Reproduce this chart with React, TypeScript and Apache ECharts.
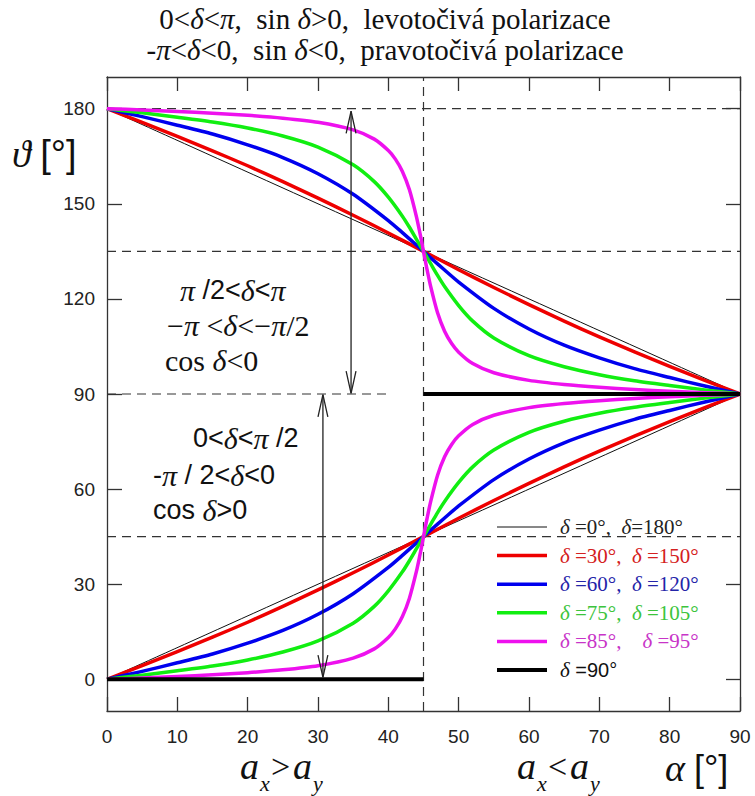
import React, { useEffect, useRef } from "react";
import * as echarts from "echarts";

const SERIF = '"Liberation Serif", "Times New Roman", serif';
const SANS = '"Liberation Sans", Arial, sans-serif';

// Axis ticks
const X_TICKS = [0, 10, 20, 30, 40, 50, 60, 70, 80, 90];
const Y_TICKS = [0, 30, 60, 90, 120, 150, 180];

// delta = 0 deg / 180 deg (thin black)
const ALPHA_D0 = [0, 90];
const D0_LOW = [0, 90];
const D0_UP = [180, 90];

// delta = 30 / 150 (red)
const ALPHA_D30 = [0, 5, 10, 15, 20, 25, 30, 35, 40, 45, 50, 55, 60, 65, 70, 75, 80, 85, 90];
const D30_LOW = [0, 4.3, 8.7, 13.3, 18.0, 23.0, 28.2, 33.6, 39.2, 45, 50.8, 56.4, 61.8, 67.0, 72.0, 76.7, 81.3, 85.7, 90];
const D30_UP = [180, 175.7, 171.3, 166.7, 162.0, 157.0, 151.8, 146.4, 140.8, 135, 129.2, 123.6, 118.2, 113.0, 108.0, 103.3, 98.7, 94.3, 90];

// delta = 60 / 120 (blue)
const ALPHA_D60 = [0, 5, 10, 15, 20, 25, 30, 35, 40, 42, 44, 45, 46, 48, 50, 55, 60, 65, 70, 75, 80, 85, 90];
const D60_LOW = [0, 2.5, 5.2, 8.0, 11.4, 15.4, 20.5, 27.0, 35.3, 39.1, 43.0, 45, 47.0, 50.9, 54.7, 63.0, 69.5, 74.6, 78.6, 82.0, 84.8, 87.5, 90];
const D60_UP = [180, 177.5, 174.8, 172.0, 168.6, 164.6, 159.5, 153.0, 144.7, 140.9, 137.0, 135, 133.0, 129.1, 125.3, 117.0, 110.5, 105.4, 101.4, 98.0, 95.2, 92.5, 90];

// delta = 75 / 105 (green)
const ALPHA_D75 = [0, 5, 10, 15, 20, 25, 30, 35, 38, 40, 42, 43, 44, 45, 46, 47, 48, 50, 52, 55, 60, 65, 70, 75, 80, 85, 90];
const D75_LOW = [0, 1.3, 2.7, 4.2, 6.1, 8.6, 12.1, 17.7, 23.0, 27.9, 33.9, 37.4, 41.2, 45, 48.8, 52.6, 56.1, 62.1, 67.0, 72.3, 77.9, 81.4, 83.9, 85.8, 87.3, 88.7, 90];
const D75_UP = [180, 178.7, 177.3, 175.8, 173.9, 171.4, 167.9, 162.3, 157.0, 152.1, 146.1, 142.6, 138.8, 135, 131.2, 127.4, 123.9, 117.9, 113.0, 107.7, 102.1, 98.6, 96.1, 94.2, 92.7, 91.3, 90];

// delta = 85 / 95 (magenta)
const ALPHA_D85 = [0, 5, 10, 15, 20, 25, 30, 35, 38, 40, 41, 42, 43, 44, 44.5, 44.75, 45, 45.25, 45.5, 46, 47, 48, 49, 50, 52, 55, 60, 65, 70, 75, 80, 85, 90];
const D85_LOW = [0, 0.4, 0.9, 1.4, 2.1, 3.0, 4.3, 6.7, 9.6, 13.2, 15.9, 19.8, 25.6, 34.1, 39.3, 42.1, 45, 47.9, 50.7, 55.9, 64.4, 70.2, 74.1, 76.8, 80.4, 83.3, 85.7, 87.0, 87.9, 88.6, 89.1, 89.6, 90];
const D85_UP = [180, 179.6, 179.1, 178.6, 177.9, 177.0, 175.7, 173.3, 170.4, 166.8, 164.1, 160.2, 154.4, 145.9, 140.7, 137.9, 135, 132.1, 129.3, 124.1, 115.6, 109.8, 105.9, 103.2, 99.6, 96.7, 94.3, 93.0, 92.1, 91.4, 90.9, 90.4, 90];

// delta = 90 (thick black)
const ALPHA_D90_A = [0, 45];
const D90_A = [0, 0];
const ALPHA_D90_B = [45, 90];
const D90_B = [90, 90];

// Reference dashed lines: [alpha1, theta1, alpha2, theta2]
const DASHED = [
  [0, 180, 90, 180],
  [0, 135, 90, 135],
  [0, 90, 39.8, 90],
  [0, 45, 90, 45],
  [45, -10, 45, 190],
];

// Double arrows: alpha, theta from, theta to
const ARROWS = [
  [34.7, 179.2, 90.2],
  [30.7, 89.8, 0.6],
];

const zip = (xs: number[], ys: number[]) => xs.map((x, i) => [x, ys[i]]);

const COLORS = {
  d0: "#111111",
  d30: "#ee0000",
  d60: "#0000ee",
  d75: "#11ee11",
  d85: "#ee11ee",
  d90: "#000000",
};

export default function App() {
  const ref = useRef<HTMLDivElement>(null);

  useEffect(() => {
    if (!ref.current) return;
    const chart = echarts.init(ref.current, null, { renderer: "svg" });

    const curve = (name: string, xs: number[], ys: number[], color: string, width: number, z: number) => ({
      name,
      type: "line",
      data: zip(xs, ys),
      showSymbol: false,
      symbol: "none",
      smooth: 0.25,
      lineStyle: { color, width, cap: "butt", join: "round" },
      z,
      silent: true,
    });

    const dashedSeries = DASHED.map((d, i) => ({
      name: "ref" + i,
      type: "line",
      data: [
        [d[0], d[1]],
        [d[2], d[3]],
      ],
      showSymbol: false,
      symbol: "none",
      lineStyle: { color: "#333", width: 1.2, type: [9, 6] },
      z: 1,
      silent: true,
    }));

    const arrowSeries: any[] = [];
    ARROWS.forEach((a, i) => {
      const [x, t1, t2] = a;
      const dx = 0.7;
      const dy = 7;
      const s1 = t1 > t2 ? -dy : dy;
      const mk = (name: string, pts: number[][]) => ({
        name,
        type: "line",
        data: pts,
        showSymbol: false,
        symbol: "none",
        lineStyle: { color: "#222", width: 1.3 },
        z: 8,
        silent: true,
      });
      arrowSeries.push(mk("arrow" + i, [[x, t1], [x, t2]]));
      arrowSeries.push(mk("arrowheadA" + i, [[x - dx, t1 + s1], [x, t1], [x + dx, t1 + s1]]));
      arrowSeries.push(mk("arrowheadB" + i, [[x - dx, t2 - s1], [x, t2], [x + dx, t2 - s1]]));
    });

    const axisLineStyle = { color: "#333", width: 1.3 };
    const tickStyle = { color: "#333", width: 1.3 };

    const italic = (fill: string, fontSize: number) => ({
      fontFamily: SERIF,
      fontStyle: "italic",
      fontSize,
      fill,
    });
    const roman = (fill: string, fontSize: number) => ({
      fontFamily: SERIF,
      fontSize,
      fill,
    });
    const sans = (fill: string, fontSize: number) => ({
      fontFamily: SANS,
      fontSize,
      fill,
    });

    const textEl = (x: number, y: number, text: string, rich: any, base: any, align = "left") => ({
      type: "text",
      x,
      y,
      silent: true,
      style: {
        text,
        rich,
        ...base,
        align,
        verticalAlign: "middle",
      },
    });

    const legendRows = [
      { color: COLORS.d0, width: 1, text: "{i|δ} ={r|0°,  }{i|δ}{r|=180°}", textColor: "#222" },
      { color: COLORS.d30, width: 3.5, text: "{i|δ} ={r|30°,  }{i|δ} ={r|150°}", textColor: "#d42020" },
      { color: COLORS.d60, width: 3.5, text: "{i|δ}{r| =60°,  }{i|δ}{r| =120°}", textColor: "#2424a8" },
      { color: COLORS.d75, width: 3.5, text: "{i|δ}{r| =75°,  }{i|δ}{r| =105°}", textColor: "#3cc43c" },
      { color: COLORS.d85, width: 3.5, text: "{i|δ}{r| =85°,    }{i|δ}{r| =95°}", textColor: "#c834c8" },
      { color: COLORS.d90, width: 4, text: "{i|δ}{s| =90°}", textColor: "#111" },
    ];
    const legendY0 = 527;
    const legendDy = 28.6;
    const legendGraphics: any[] = [];
    legendRows.forEach((r, i) => {
      const y = legendY0 + i * legendDy;
      legendGraphics.push({
        type: "line",
        silent: true,
        shape: { x1: 497, y1: y, x2: 547, y2: y },
        style: { stroke: r.color, lineWidth: r.width },
      });
      legendGraphics.push(
        textEl(
          560,
          y,
          r.text,
          {
            i: italic(r.textColor, 21),
            r: roman(r.textColor, 21),
            s: sans(r.textColor, 20),
          },
          roman(r.textColor, 21)
        )
      );
    });

    const subLabel = (x0: number, op: string) => [
      { type: "text", x: x0, y: 766, silent: true, style: { text: "a", ...italic("#111", 38), align: "left", verticalAlign: "middle" } },
      { type: "text", x: x0 + 20, y: 783, silent: true, style: { text: "x", ...italic("#111", 22), align: "left", verticalAlign: "middle" } },
      { type: "text", x: x0 + 31, y: 766, silent: true, style: { text: op, ...roman("#111", 34), align: "left", verticalAlign: "middle" } },
      { type: "text", x: x0 + 53, y: 766, silent: true, style: { text: "a", ...italic("#111", 38), align: "left", verticalAlign: "middle" } },
      { type: "text", x: x0 + 73, y: 783, silent: true, style: { text: "y", ...italic("#111", 22), align: "left", verticalAlign: "middle" } },
    ];

    const annRich = {
      g: italic("#111", 30),
      r: roman("#111", 30),
      s: sans("#111", 27),
    };

    const option: any = {
      animation: false,
      backgroundColor: "#ffffff",
      grid: { left: 107, right: 15, top: 77, bottom: 85, containLabel: false },
      xAxis: [
        {
          type: "value",
          min: 0,
          max: 90,
          interval: 10,
          position: "bottom",
          axisLine: { show: true, onZero: false, lineStyle: axisLineStyle },
          axisTick: { show: true, inside: true, length: 14, lineStyle: tickStyle },
          axisLabel: { show: true, fontFamily: SANS, fontSize: 19, color: "#222", margin: 16 },
          splitLine: { show: false },
        },
        {
          type: "value",
          min: 0,
          max: 90,
          interval: 10,
          position: "top",
          axisLine: { show: true, onZero: false, lineStyle: axisLineStyle },
          axisTick: { show: true, inside: true, length: 14, lineStyle: tickStyle },
          axisLabel: { show: false },
          splitLine: { show: false },
        },
      ],
      yAxis: [
        {
          type: "value",
          min: -10,
          max: 190,
          position: "left",
          axisLine: { show: true, onZero: false, lineStyle: axisLineStyle },
          axisTick: { show: true, inside: true, length: 15, lineStyle: tickStyle, customValues: Y_TICKS },
          axisLabel: { show: true, fontFamily: SANS, fontSize: 19, color: "#222", margin: 12, customValues: Y_TICKS },
          splitLine: { show: false },
        },
        {
          type: "value",
          min: -10,
          max: 190,
          position: "right",
          axisLine: { show: true, onZero: false, lineStyle: axisLineStyle },
          axisTick: { show: true, inside: true, length: 14, lineStyle: tickStyle, customValues: Y_TICKS },
          axisLabel: { show: false, customValues: Y_TICKS },
          splitLine: { show: false },
        },
      ],
      series: [
        ...dashedSeries,
        curve("δ=0°, δ=180°", ALPHA_D0, D0_LOW, COLORS.d0, 1, 3),
        curve("δ=0°, δ=180°", ALPHA_D0, D0_UP, COLORS.d0, 1, 3),
        curve("δ=30°, δ=150°", ALPHA_D30, D30_LOW, COLORS.d30, 3.5, 4),
        curve("δ=30°, δ=150°", ALPHA_D30, D30_UP, COLORS.d30, 3.5, 4),
        curve("δ=60°, δ=120°", ALPHA_D60, D60_LOW, COLORS.d60, 3.5, 5),
        curve("δ=60°, δ=120°", ALPHA_D60, D60_UP, COLORS.d60, 3.5, 5),
        curve("δ=75°, δ=105°", ALPHA_D75, D75_LOW, COLORS.d75, 3.5, 6),
        curve("δ=75°, δ=105°", ALPHA_D75, D75_UP, COLORS.d75, 3.5, 6),
        curve("δ=85°, δ=95°", ALPHA_D85, D85_LOW, COLORS.d85, 3.5, 7),
        curve("δ=85°, δ=95°", ALPHA_D85, D85_UP, COLORS.d85, 3.5, 7),
        curve("δ=90°", ALPHA_D90_A, D90_A, COLORS.d90, 4, 7),
        curve("δ=90°", ALPHA_D90_B, D90_B, COLORS.d90, 4, 7),
        ...arrowSeries,
      ],
      graphic: {
        elements: [
          textEl(385, 19, "0<{i|δ}<{i|π},  sin {i|δ}>0,  levotočivá polarizace", { i: italic("#111", 29) }, roman("#111", 29), "center"),
          textEl(385, 50, "-{i|π}<{i|δ}<0,  sin {i|δ}<0,  pravotočivá polarizace", { i: italic("#111", 29) }, roman("#111", 29), "center"),
          textEl(12, 154, "{i|ϑ} {s|[°]}", { i: italic("#111", 38), s: sans("#111", 38) }, roman("#111", 38)),
          ...subLabel(240, ">"),
          ...subLabel(517, "<"),
          textEl(665, 768, "{i|α} {s|[°]}", { i: italic("#111", 38), s: sans("#111", 36) }, roman("#111", 36)),
          textEl(180, 290, "{g|π} {s|/2<}{g|δ}{s|<}{g|π}", annRich, roman("#111", 30)),
          textEl(167, 325, "{r|−}{g|π}{r| <}{g|δ}{r|<−}{g|π}{r|/2}", annRich, roman("#111", 30)),
          textEl(165, 360, "{r|cos }{g|δ}{r|<0}", annRich, roman("#111", 30)),
          textEl(193, 438, "{s|0<}{g|δ}{s|<}{g|π}{s| /2}", annRich, roman("#111", 30)),
          textEl(153, 475, "{s|-}{g|π}{s| / 2<}{g|δ}{s|<0}", annRich, roman("#111", 30)),
          textEl(153, 510, "{s|cos }{g|δ}{s|>0}", annRich, roman("#111", 30)),
          ...legendGraphics,
        ],
      },
    };

    chart.setOption(option);
    return () => {
      chart.dispose();
    };
  }, []);

  return (
    <div
      ref={ref}
      style={{ position: "fixed", left: 0, top: 0, width: 755, height: 796, background: "#fff" }}
    />
  );
}
